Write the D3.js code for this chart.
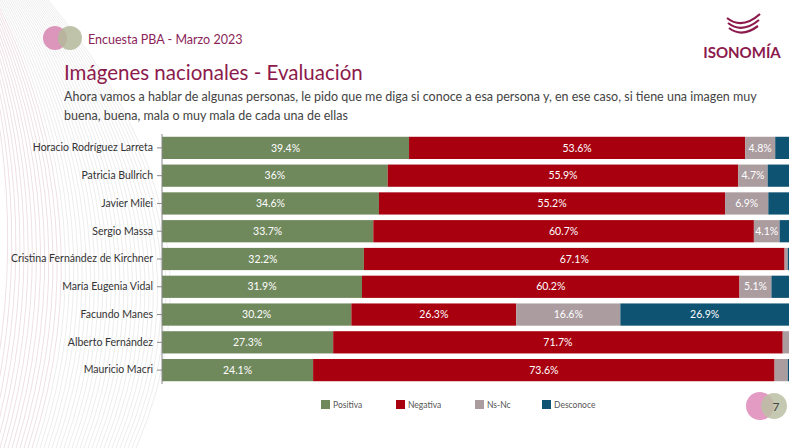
<!DOCTYPE html>
<html>
<head>
<meta charset="utf-8">
<script src="https://cdn.jsdelivr.net/npm/d3@7"></script>
<style>
  body { margin: 0; background: #fff; }
  svg { display: block; font-family: Lato, "Open Sans", sans-serif; }
</style>
</head>
<body>
<div id="chart"></div>
<script>
// datos
const personas = ["Horacio Rodríguez Larreta", "Patricia Bullrich", "Javier Milei", "Sergio Massa",
  "Cristina Fernández de Kirchner", "María Eugenia Vidal", "Facundo Manes", "Alberto Fernández", "Mauricio Macri"];
const positiva = [39.4, 36, 34.6, 33.7, 32.2, 31.9, 30.2, 27.3, 24.1];
const negativa = [53.6, 55.9, 55.2, 60.7, 67.1, 60.2, 26.3, 71.7, 73.6];
const nsnc = [4.8, 4.7, 6.9, 4.1, 0.5, 5.1, 16.6, 1.0, 2.1];
const desconoce = [2.2, 3.4, 3.3, 1.5, 0.2, 2.8, 26.9, 0, 0.2];
const series = ["Positiva", "Negativa", "Ns-Nc", "Desconoce"];
const colores = ["#6f885c", "#a8000f", "#aa9c9f", "#0e5371"];

const width = 800, height = 448;
const svg = d3.select("#chart").append("svg")
    .attr("width", width)
    .attr("height", height);

// fondo decorativo (lineas curvas a la izquierda)
const deco = svg.append("g");
for (let i = 0; i < 40; i++) {
    deco.append("path")
        .attr("d", `M${-20 + i * 4},${height} Q${40 + i * 5},${220} ${-30 + i * 2},0`)
        .attr("fill", "none")
        .attr("stroke", i < 14 ? "#e3c8cf" : "#dedede")
        .attr("stroke-width", 0.8)
        .attr("opacity", 0.7);
}

// cabecera
const hdr = svg.append("g");
hdr.append("circle").attr("cx", 55).attr("cy", 38).attr("r", 12).attr("fill", "#d98bb4").attr("opacity", 0.9);
hdr.append("circle").attr("cx", 70).attr("cy", 38).attr("r", 12).attr("fill", "#b3b89a").attr("opacity", 0.85);
hdr.append("text").attr("x", 88).attr("y", 44).attr("font-size", 12.5).attr("fill", "#8c1f5a")
    .text("Encuesta PBA - Marzo 2023");

hdr.append("text").attr("x", 64).attr("y", 80).attr("font-size", 20.5).attr("fill", "#8c1a4c")
    .text("Imágenes nacionales - Evaluación");
hdr.append("text").attr("x", 64).attr("y", 101).attr("font-size", 12.5).attr("fill", "#444")
    .text("Ahora vamos a hablar de algunas personas, le pido que me diga si conoce a esa persona y, en ese caso, si tiene una imagen muy");
hdr.append("text").attr("x", 64).attr("y", 120).attr("font-size", 12.5).attr("fill", "#444")
    .text("buena, buena, mala o muy mala de cada una de ellas");

// logo
const logo = svg.append("g");
[0, 1, 2].forEach(i => {
    logo.append("path")
        .attr("d", `M${727 + i * 1},${18 + i * 5} Q${742},${30 + i * 4} ${760 - i * 1},${14 + i * 6}`)
        .attr("fill", "none").attr("stroke", "#8c1a4c").attr("stroke-width", 2.2);
});
logo.append("text").attr("x", 742).attr("y", 58).attr("text-anchor", "middle")
    .attr("font-size", 15).attr("font-weight", "bold").attr("fill", "#8c1a4c")
    .text("ISONOMÍA");

// escalas
const x = d3.scaleLinear().domain([0, 100]).range([162, 789]);
const y = d3.scaleBand().domain(personas).range([134, 384]).paddingInner(0.2).paddingOuter(0.1);

const tabla = personas.map((p, i) => ({
    persona: p, Positiva: positiva[i], Negativa: negativa[i], "Ns-Nc": nsnc[i], Desconoce: desconoce[i]
}));
const stack = d3.stack().keys(series)(tabla);

const capas = svg.append("g").selectAll("g")
    .data(stack)
    .enter().append("g")
    .attr("fill", (d, i) => colores[i]);

capas.selectAll("rect")
    .data(d => d)
    .enter().append("rect")
    .attr("x", d => x(d[0]))
    .attr("y", d => y(d.data.persona))
    .attr("width", d => x(d[1]) - x(d[0]))
    .attr("height", y.bandwidth());

// etiquetas dentro de las barras
capas.selectAll("text")
    .data(d => d.filter(v => v[1] - v[0] >= 4))
    .enter().append("text")
    .attr("x", d => (x(d[0]) + x(d[1])) / 2)
    .attr("y", d => y(d.data.persona) + y.bandwidth() / 2)
    .attr("dy", "0.35em")
    .attr("text-anchor", "middle")
    .attr("font-size", 10.5)
    .attr("fill", "#fff")
    .text(d => d3.format(".1~f")(d[1] - d[0]) + "%");

// eje Y
const ejeY = svg.append("g")
    .attr("transform", "translate(162,0)")
    .call(d3.axisLeft(y).tickSize(5).tickPadding(4));
ejeY.select(".domain").attr("stroke", "#888").attr("d", "M0,134V384");
ejeY.selectAll(".tick line").attr("stroke", "#888");
ejeY.selectAll(".tick text").attr("font-size", 10.5).attr("fill", "#333")
    .attr("font-family", "Lato, 'Open Sans', sans-serif");

// leyenda
const leyX = [321, 396, 475, 542];
const ley = svg.append("g").selectAll("g")
    .data(series)
    .enter().append("g")
    .attr("transform", (d, i) => `translate(${leyX[i]},400)`);
ley.append("rect").attr("width", 9).attr("height", 9).attr("fill", (d, i) => colores[i]);
ley.append("text").attr("x", 12).attr("y", 8).attr("font-size", 8.5).attr("fill", "#555").text(d => d);

// pie de pagina
svg.append("circle").attr("cx", 760).attr("cy", 406).attr("r", 14).attr("fill", "#e090bd").attr("opacity", 0.9);
svg.append("circle").attr("cx", 774).attr("cy", 406).attr("r", 13).attr("fill", "#bcc0a4").attr("opacity", 0.85);
svg.append("text").attr("x", 776).attr("y", 411).attr("text-anchor", "middle")
    .attr("font-size", 12).attr("fill", "#444").text("7");
</script>
</body>
</html>
